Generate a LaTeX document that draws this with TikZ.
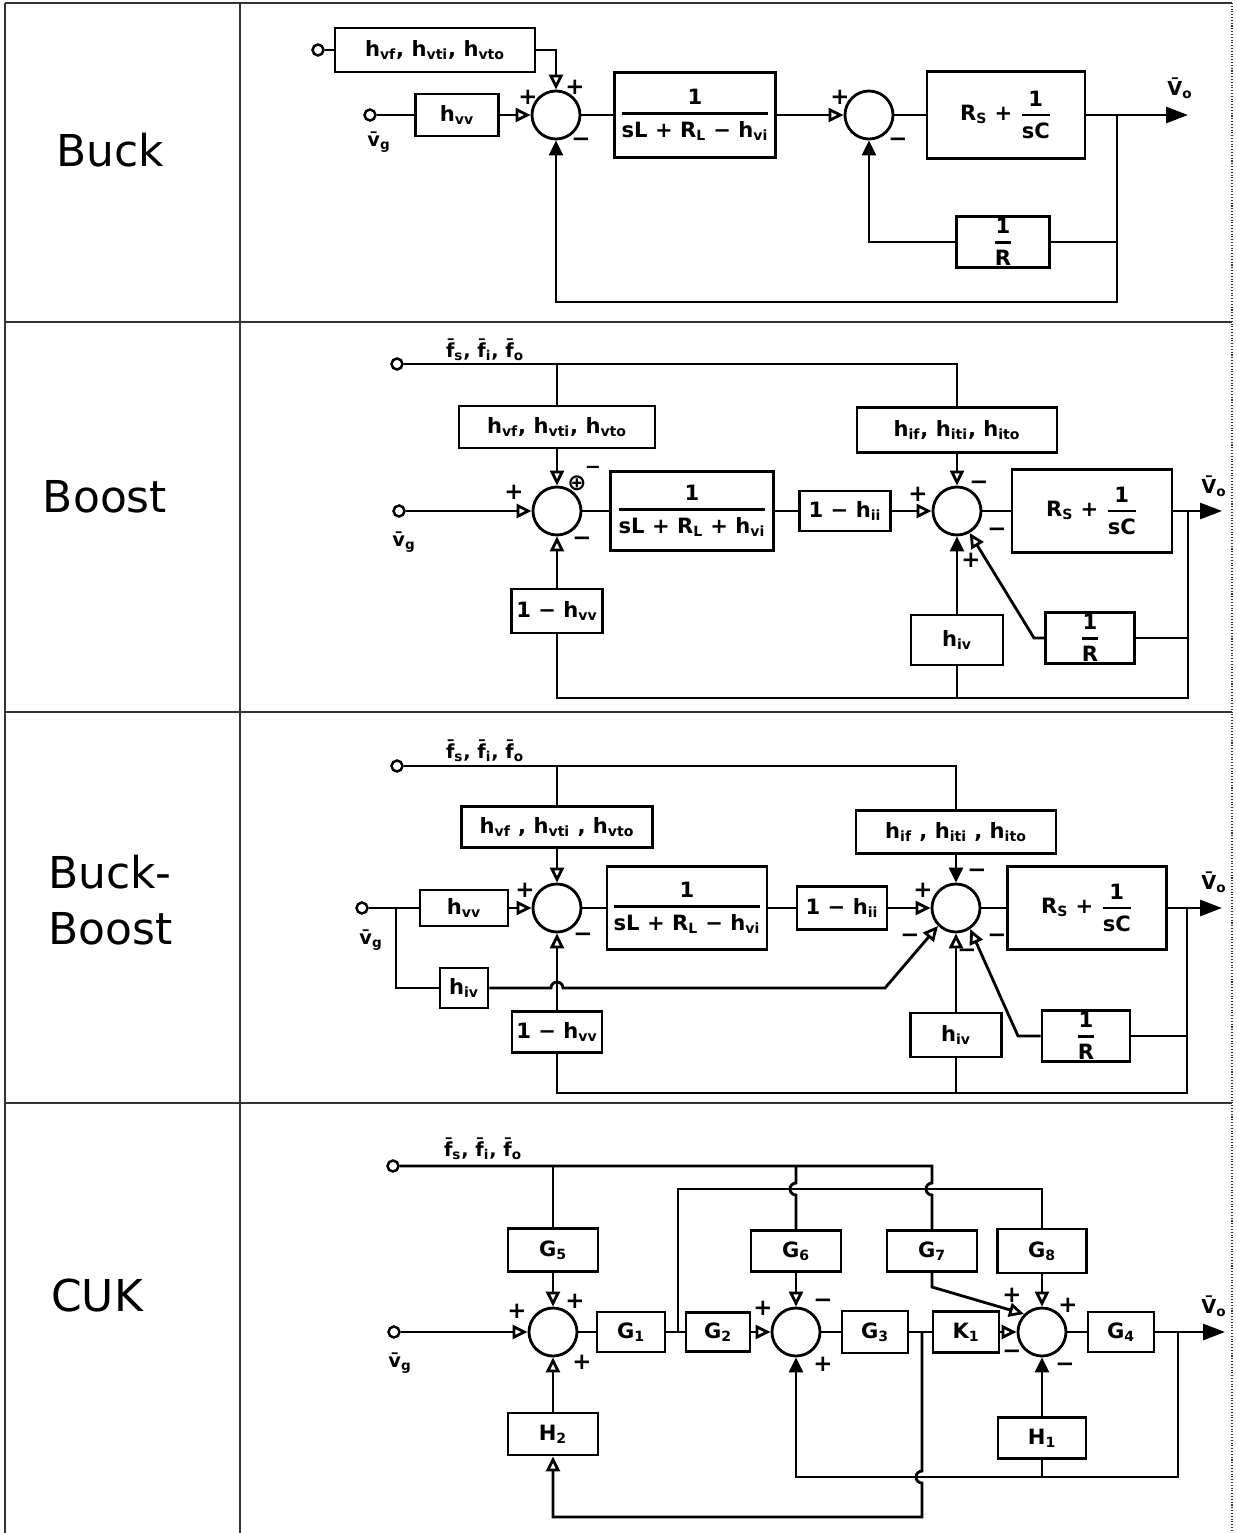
\documentclass[tikz,border=0pt]{standalone}
\usepackage{fontspec}
\usepackage{amsmath}
\setmainfont{DejaVu Sans}
\usetikzlibrary{arrows.meta, positioning}

\newcommand{\ix}[1]{\textsubscript{#1}}
\newcommand{\barv}[1]{#1^^^^0304}
\newcommand{\blkfrac}[2]{$\genfrac{}{}{1.3pt}{0}{\text{#1}}{\text{#2}}$}

\tikzset{
  wire/.style={line width=1.6pt},
  blk/.style={draw, line width=1.6pt, font=\bfseries\fontsize{12}{14}\selectfont, inner sep=1pt},
  sz/.style 2 args={minimum width=#1*0.2mm, minimum height=#2*0.2mm},
  sumj/.style={circle, draw, line width=1.6pt, minimum size=9.6mm, inner sep=0pt},
  term/.style={circle, draw, line width=1.4pt, minimum size=2.2mm, inner sep=0pt},
  arr/.style={wire, -{Triangle[open, length=3mm, width=2.8mm]}},
  arrf/.style={wire, -{Triangle[length=3mm, width=2.8mm]}},
  outarr/.style={wire, -{Triangle[length=4.4mm, width=3.2mm]}},
  sgn/.style={font=\bfseries\fontsize{13}{13}\selectfont, inner sep=0pt},
  sig/.style={font=\bfseries\fontsize{11}{12}\selectfont, inner sep=0pt},
  lbl/.style={font=\fontsize{25}{32}\selectfont, align=left},
  grid/.style={line width=0.6pt, black!80}
}

\begin{document}
\begin{tikzpicture}[x=0.2mm, y=-0.2mm]
\useasboundingbox (0,0) rectangle (1237,1533);

% table
\draw[grid] (5,3) -- (5,1533);
\draw[grid] (240,3) -- (240,1533);
\draw[grid] (5,3) -- (1232,3);
\draw[grid] (5,322) -- (1232,322);
\draw[grid] (5,712) -- (1232,712);
\draw[grid] (5,1103) -- (1232,1103);
\draw[grid, densely dotted] (1232,3) -- (1232,1533);

\node[lbl] (buck) at (110,150) {Buck};
\node[lbl] (boost) at (105,497) {Boost};
\node[lbl, anchor=west] (buckboost) at (42,900) {Buck-\\Boost};
\node[lbl] (cuk) at (97,1295) {CUK};

% Buck
\node[term] (b-tf) at (318,50) {};
\node[blk, sz={200}{44}] (b-hvf) at (435,50) {h\ix{vf}, h\ix{vti}, h\ix{vto}};
\node[term] (b-vg) at (370,115) {};
\node[sig] (b-vgl) at (379,142) {\barv{v}\ix{g}};
\node[blk, sz={83}{42}] (b-hvv) at (457,115) {h\ix{vv}};
\node[sumj] (b-s1) at (556,115) {};
\node[blk, sz={161}{85}] (b-g1) at (695,115) {\blkfrac{1}{sL + R\ix{L} − h\ix{vi}}};
\node[sumj] (b-s2) at (869,115) {};
\node[blk, sz={158}{87}] (b-rs) at (1006,115) {R\ix{S} + \blkfrac{1}{sC}};
\node[blk, sz={93}{46}] (b-r) at (1003,242) {\blkfrac{1}{R}};
\coordinate (b-br) at (1117,115);
\coordinate (b-bot) at (1117,302);
\coordinate (b-out) at (1188,115);
\node[sig] (b-vol) at (1180,88) {\barv{V}\ix{o}};
\node[sgn] at (528,97) {+};
\node[sgn] at (575,87) {+};
\node[sgn] at (581,142) {−};
\node[sgn] at (840,97) {+};
\node[sgn] at (898,142) {−};

\draw[wire] (b-tf) -- (b-hvf);
\draw[arr] (b-hvf.east) -| (b-s1.north);
\draw[wire] (b-vg) -- (b-hvv);
\draw[arr] (b-hvv) -- (b-s1);
\draw[wire] (b-s1) -- (b-g1);
\draw[arr] (b-g1) -- (b-s2);
\draw[wire] (b-s2) -- (b-rs);
\draw[outarr] (b-rs) -- (b-out);
\draw[wire] (b-br) |- (b-r);
\draw[arrf] (b-r) -| (b-s2);
\draw[arrf] (b-br) -- (b-bot) -| (b-s1);

% Boost
\node[term] (o-tf) at (397,364) {};
\node[sig] (o-fl) at (485,350) {\barv{f}\ix{s}, \barv{f}\ix{i}, \barv{f}\ix{o}};
\coordinate (o-c1) at (557,364);
\coordinate (o-c2) at (957,364);
\node[blk, sz={196}{42}] (o-hvf) at (557,427) {h\ix{vf}, h\ix{vti}, h\ix{vto}};
\node[blk, sz={200}{45}] (o-hif) at (957,430) {h\ix{if}, h\ix{iti}, h\ix{ito}};
\node[term] (o-vg) at (399,511) {};
\node[sig] (o-vgl) at (404,542) {\barv{v}\ix{g}};
\node[sumj] (o-s1) at (557,511) {};
\node[blk, sz={163}{79}] (o-g1) at (692,511) {\blkfrac{1}{sL + R\ix{L} + h\ix{vi}}};
\node[blk, sz={91}{40}] (o-hii) at (845,511) {1 − h\ix{ii}};
\node[sumj] (o-s2) at (957,511) {};
\node[blk, sz={160}{83}] (o-rs) at (1092,511) {R\ix{S} + \blkfrac{1}{sC}};
\coordinate (o-br) at (1188,511);
\coordinate (o-out) at (1222,511);
\node[sig] (o-vol) at (1214,486) {\barv{V}\ix{o}};
\node[blk, sz={91}{44}] (o-hvv) at (557,611) {1 − h\ix{vv}};
\node[blk, sz={92}{50}] (o-hiv) at (957,640) {h\ix{iv}};
\node[blk, sz={89}{45}] (o-r) at (1090,638) {\blkfrac{1}{R}};
\coordinate (o-k) at (1034,638);
\coordinate (o-bot) at (1188,698);
\node[sgn] at (514,492) {+};
\node[sgn] at (577,483) {⊕};
\node[sig] at (593,470) {−};
\node[sgn] at (582,541) {−};
\node[sgn] at (918,494) {+};
\node[sgn] at (979,485) {−};
\node[sgn] at (997,532) {−};
\node[sgn] at (971,560) {+};

\draw[wire] (o-tf) -- (o-c2) -- (o-hif);
\draw[wire] (o-c1) -- (o-hvf);
\draw[arr] (o-hvf) -- (o-s1);
\draw[arr] (o-hif) -- (o-s2);
\draw[arr] (o-vg) -- (o-s1);
\draw[wire] (o-s1) -- (o-g1);
\draw[wire] (o-g1) -- (o-hii);
\draw[arr] (o-hii) -- (o-s2);
\draw[wire] (o-s2) -- (o-rs);
\draw[outarr] (o-rs) -- (o-out);
\draw[wire] (o-br) -- (o-bot) -| (o-hvv);
\draw[arr] (o-hvv) -- (o-s1);
\draw[wire] (o-hiv) -- (o-hiv |- o-bot);
\draw[arrf] (o-hiv) -- (o-s2);
\draw[wire] (o-br |- o-r) -- (o-r);
\draw[arr] (o-r) -- (o-k) -- (o-s2.300);

% Buck-Boost
\node[term] (bb-tf) at (397,766) {};
\node[sig] (bb-fl) at (485,751) {\barv{f}\ix{s}, \barv{f}\ix{i}, \barv{f}\ix{o}};
\coordinate (bb-c1) at (557,766);
\coordinate (bb-c2) at (956,766);
\node[blk, sz={191}{41}] (bb-hvf) at (557,827) {h\ix{vf} , h\ix{vti} , h\ix{vto}};
\node[blk, sz={200}{43}] (bb-hif) at (956,832) {h\ix{if} , h\ix{iti} , h\ix{ito}};
\node[term] (bb-vg) at (362,908) {};
\node[sig] (bb-vgl) at (371,940) {\barv{v}\ix{g}};
\coordinate (bb-c3) at (396,908);
\node[blk, sz={88}{36}] (bb-hvv) at (464,908) {h\ix{vv}};
\node[blk, sz={48}{40}] (bb-hiv1) at (464,988) {h\ix{iv}};
\node[sumj] (bb-s1) at (557,908) {};
\node[blk, sz={160}{83}] (bb-g1) at (687,908) {\blkfrac{1}{sL + R\ix{L} − h\ix{vi}}};
\node[blk, sz={90}{43}] (bb-hii) at (842,908) {1 − h\ix{ii}};
\node[sumj] (bb-s2) at (956,908) {};
\node[blk, sz={159}{83}] (bb-rs) at (1087,908) {R\ix{S} + \blkfrac{1}{sC}};
\coordinate (bb-br) at (1187,908);
\coordinate (bb-out) at (1222,908);
\node[sig] (bb-vol) at (1214,882) {\barv{V}\ix{o}};
\node[blk, sz={90}{41}] (bb-hvv2) at (557,1032) {1 − h\ix{vv}};
\node[blk, sz={91}{44}] (bb-hiv2) at (956,1035) {h\ix{iv}};
\node[blk, sz={88}{42}] (bb-r) at (1086,1036) {\blkfrac{1}{R}};
\coordinate (bb-k) at (1018,1036);
\coordinate (bb-k2) at (885,988);
\coordinate (bb-bot) at (1187,1093);
\node[sgn] at (525,890) {+};
\node[sgn] at (583,937) {−};
\node[sgn] at (923,890) {+};
\node[sgn] at (977,873) {−};
\node[sgn] at (910,938) {−};
\node[sgn] at (967,953) {−};
\node[sgn] at (997,938) {−};

\draw[wire] (bb-tf) -- (bb-c2) -- (bb-hif);
\draw[wire] (bb-c1) -- (bb-hvf);
\draw[arr] (bb-hvf) -- (bb-s1);
\draw[arrf] (bb-hif) -- (bb-s2);
\draw[wire] (bb-vg) -- (bb-hvv);
\draw[arr] (bb-hvv) -- (bb-s1);
\draw[wire] (bb-c3) |- (bb-hiv1);
\draw[arr] (bb-hiv1) -- (551,988) arc (180:360:6) -- (bb-k2) -- (bb-s2.225);
\draw[wire] (bb-s1) -- (bb-g1);
\draw[wire] (bb-g1) -- (bb-hii);
\draw[arr] (bb-hii) -- (bb-s2);
\draw[wire] (bb-s2) -- (bb-rs);
\draw[outarr] (bb-rs) -- (bb-out);
\draw[wire] (bb-br) -- (bb-bot) -| (bb-hvv2);
\draw[arr] (bb-hvv2) -- (bb-s1);
\draw[wire] (bb-hiv2) -- (bb-hiv2 |- bb-bot);
\draw[arr] (bb-hiv2) -- (bb-s2);
\draw[wire] (bb-br |- bb-r) -- (bb-r);
\draw[arr] (bb-r) -- (bb-k) -- (bb-s2.304);

% CUK
\node[term] (c-tf) at (393,1166) {};
\node[sig] (c-fl) at (483,1149) {\barv{f}\ix{s}, \barv{f}\ix{i}, \barv{f}\ix{o}};
\coordinate (c-c1) at (553,1166);
\coordinate (c-c2) at (796,1166);
\coordinate (c-c3) at (932,1166);
\node[blk, sz={90}{43}] (c-g5) at (553,1250) {G\ix{5}};
\node[blk, sz={90}{41}] (c-g6) at (796,1251) {G\ix{6}};
\node[blk, sz={90}{41}] (c-g7) at (932,1251) {G\ix{7}};
\node[blk, sz={89}{44}] (c-g8) at (1042,1251) {G\ix{8}};
\node[term] (c-vg) at (394,1332) {};
\node[sig] (c-vgl) at (400,1363) {\barv{v}\ix{g}};
\node[sumj] (c-s1) at (553,1332) {};
\node[blk, sz={68}{40}] (c-g1) at (631,1332) {G\ix{1}};
\coordinate (c-j1) at (678,1332);
\node[blk, sz={64}{39}] (c-g2) at (718,1332) {G\ix{2}};
\node[sumj] (c-s2) at (796,1332) {};
\node[blk, sz={66}{42}] (c-g3) at (875,1332) {G\ix{3}};
\coordinate (c-j2) at (922,1332);
\node[blk, sz={66}{41}] (c-k1) at (966,1332) {K\ix{1}};
\node[sumj] (c-s3) at (1042,1332) {};
\node[blk, sz={66}{40}] (c-g4) at (1121,1332) {G\ix{4}};
\coordinate (c-br) at (1178,1332);
\coordinate (c-out) at (1225,1332);
\node[sig] (c-vol) at (1214,1306) {\barv{V}\ix{o}};
\node[blk, sz={88}{41}] (c-h1) at (1042,1438) {H\ix{1}};
\node[blk, sz={90}{42}] (c-h2) at (553,1434) {H\ix{2}};
\coordinate (c-k) at (932,1287);
\node[sgn] at (517,1311) {+};
\node[sgn] at (575,1301) {+};
\node[sgn] at (582,1362) {+};
\node[sgn] at (763,1308) {+};
\node[sgn] at (823,1303) {−};
\node[sgn] at (823,1364) {+};
\node[sgn] at (1012,1295) {+};
\node[sgn] at (1068,1305) {+};
\node[sgn] at (1012,1354) {−};
\node[sgn] at (1065,1367) {−};

\draw[wire] (c-tf) -- (c-c3) -- (932,1183) arc (270:90:6) -- (c-g7);
\draw[wire] (c-c2) -- (796,1183) arc (270:90:6) -- (c-g6);
\draw[wire] (c-c1) -- (c-g5);
\draw[wire] (c-j1) -- (678,1189) -| (c-g8);
\draw[arr] (c-g5) -- (c-s1);
\draw[arr] (c-vg) -- (c-s1);
\draw[wire] (c-s1) -- (c-g1);
\draw[wire] (c-g1) -- (c-g2);
\draw[arr] (c-g2) -- (c-s2);
\draw[arr] (c-g6) -- (c-s2);
\draw[wire] (c-s2) -- (c-g3);
\draw[wire] (c-g3) -- (c-k1);
\draw[arr] (c-k1) -- (c-s3);
\draw[arr] (c-g8) -- (c-s3);
\draw[arr] (c-g7) -- (c-k) -- (c-s3.135);
\draw[wire] (c-s3) -- (c-g4);
\draw[outarr] (c-g4) -- (c-out);
\draw[arrf] (c-h1) -- (c-s3);
\draw[wire] (c-h1) -- (1042,1477);
\draw[arrf] (c-br) -- (1178,1477) -- (796,1477) -- (c-s2);
\draw[arr] (c-j2) -- (922,1471) arc (270:90:6) -- (922,1517) -- (553,1517) -- (c-h2);
\draw[arr] (c-h2) -- (c-s1);
\end{tikzpicture}
\end{document}
